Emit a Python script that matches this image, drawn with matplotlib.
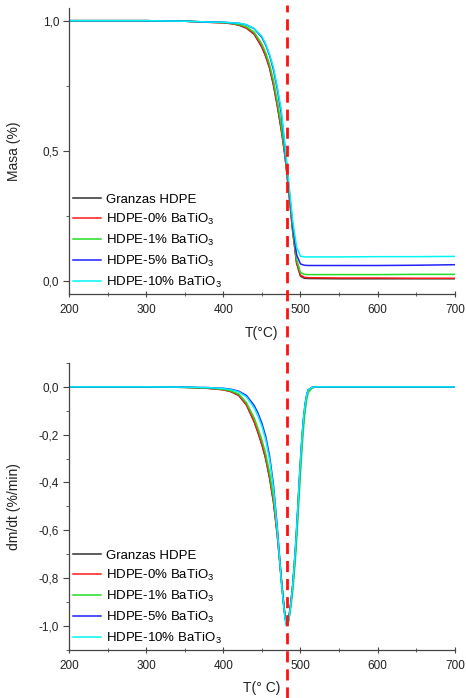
import matplotlib
matplotlib.use('Agg')
import matplotlib.pyplot as plt
from matplotlib.lines import Line2D
from matplotlib.ticker import MultipleLocator, FuncFormatter

plt.rcParams['font.family'] = ['Liberation Sans', 'DejaVu Sans']
plt.rcParams['mathtext.default'] = 'regular'

labels = ['Granzas HDPE', 'HDPE-0% BaTiO$_3$', 'HDPE-1% BaTiO$_3$',
          'HDPE-5% BaTiO$_3$', 'HDPE-10% BaTiO$_3$']
colors = ['#303030', '#ff1a1a', '#22dd22', '#2222ff', '#00f5f5']

t_peak = 482  # temperature of max degradation rate (C)

# TGA: mass fraction vs temperature
T_mass = [200, 300, 350, 380, 400, 410, 420, 430, 440, 450, 455, 460, 465,
          470, 475, 480, 485, 490, 495, 500, 505, 510, 550, 600, 650, 700]
mass_granzas = [1.0, 1.0, 0.998, 0.994, 0.992, 0.989, 0.983, 0.971, 0.948, 0.898,
                0.862, 0.817, 0.752, 0.672, 0.582, 0.478, 0.338, 0.188, 0.068,
                0.018, 0.010, 0.009, 0.008, 0.008, 0.008, 0.008]
mass_0 = [1.0, 1.0, 0.998, 0.994, 0.992, 0.989, 0.984, 0.972, 0.950, 0.900,
          0.865, 0.820, 0.755, 0.675, 0.585, 0.480, 0.340, 0.190, 0.070,
          0.022, 0.014, 0.012, 0.011, 0.011, 0.010, 0.010]
mass_1 = [1.0, 1.0, 0.998, 0.995, 0.993, 0.990, 0.986, 0.976, 0.956, 0.910,
          0.876, 0.831, 0.770, 0.690, 0.600, 0.490, 0.350, 0.200, 0.082,
          0.032, 0.025, 0.024, 0.024, 0.024, 0.025, 0.025]
mass_5 = [1.0, 1.0, 0.998, 0.995, 0.994, 0.992, 0.990, 0.984, 0.969, 0.936,
          0.906, 0.866, 0.811, 0.736, 0.646, 0.510, 0.360, 0.212, 0.100,
          0.065, 0.060, 0.059, 0.059, 0.059, 0.060, 0.062]
mass_10 = [1.0, 1.0, 0.998, 0.995, 0.994, 0.992, 0.990, 0.985, 0.970, 0.940,
           0.910, 0.870, 0.820, 0.745, 0.660, 0.520, 0.370, 0.230, 0.130,
           0.095, 0.092, 0.092, 0.092, 0.093, 0.093, 0.094]

# DTG: derivative vs temperature
T_dtg = [200, 300, 350, 380, 400, 410, 420, 430, 440, 445, 450, 455, 460, 465,
         470, 475, 478, 480, 482, 484, 486, 488, 490, 492, 494, 496, 498, 500,
         502, 504, 506, 508, 510, 515, 520, 600, 700]
dtg_granzas = [0, 0, -0.002, -0.006, -0.012, -0.020, -0.036, -0.076, -0.146, -0.192,
               -0.242, -0.302, -0.382, -0.482, -0.622, -0.802, -0.902, -0.962,
               -0.992, -0.982, -0.942, -0.892, -0.832, -0.752, -0.662, -0.552,
               -0.432, -0.322, -0.222, -0.142, -0.082, -0.042, -0.016, -0.003,
               0, 0, 0]
dtg_0 = [0, 0, -0.002, -0.006, -0.012, -0.020, -0.035, -0.075, -0.145, -0.190,
         -0.240, -0.300, -0.380, -0.480, -0.620, -0.800, -0.900, -0.960,
         -0.990, -0.980, -0.940, -0.890, -0.830, -0.750, -0.660, -0.550,
         -0.430, -0.320, -0.220, -0.140, -0.080, -0.040, -0.015, -0.003,
         0, 0, 0]
dtg_1 = [0, 0, -0.002, -0.005, -0.010, -0.017, -0.030, -0.066, -0.130, -0.174,
         -0.222, -0.282, -0.360, -0.462, -0.605, -0.790, -0.895, -0.958,
         -0.992, -0.988, -0.955, -0.910, -0.855, -0.780, -0.695, -0.590,
         -0.475, -0.362, -0.258, -0.170, -0.102, -0.055, -0.024, -0.005,
         0, 0, 0]
dtg_5 = [0, 0, -0.001, -0.003, -0.006, -0.010, -0.018, -0.036, -0.078, -0.110,
         -0.152, -0.208, -0.290, -0.410, -0.590, -0.800, -0.905, -0.965,
         -0.998, -0.985, -0.945, -0.890, -0.825, -0.740, -0.645, -0.535,
         -0.415, -0.305, -0.205, -0.128, -0.070, -0.034, -0.012, -0.002,
         0, 0, 0]
dtg_10 = [0, 0, -0.001, -0.003, -0.007, -0.012, -0.021, -0.042, -0.088, -0.122,
          -0.165, -0.222, -0.305, -0.425, -0.600, -0.805, -0.908, -0.968,
          -1.000, -0.988, -0.948, -0.893, -0.828, -0.743, -0.648, -0.538,
          -0.418, -0.308, -0.208, -0.130, -0.072, -0.035, -0.013, -0.002,
          0, 0, 0]

masses = [mass_granzas, mass_0, mass_1, mass_5, mass_10]
dtgs = [dtg_granzas, dtg_0, dtg_1, dtg_5, dtg_10]

fig = plt.figure(figsize=(4.66, 6.98), dpi=100)
ax1 = fig.add_axes([0.148, 0.579, 0.828, 0.410])
ax2 = fig.add_axes([0.148, 0.069, 0.828, 0.411])

comma = FuncFormatter(lambda v, p: ('%.1f' % v).replace('.', ','))

for ax in (ax1, ax2):
    ax.spines['top'].set_visible(False)
    ax.spines['right'].set_visible(False)
    for s in ('left', 'bottom'):
        ax.spines[s].set_color('#444444')
        ax.spines[s].set_linewidth(0.9)
    ax.set_xlim(200, 700)
    ax.xaxis.set_major_locator(MultipleLocator(100))
    ax.xaxis.set_minor_locator(MultipleLocator(50))
    ax.yaxis.set_major_formatter(comma)
    ax.tick_params(axis='x', which='major', direction='inout', length=5,
                   color='#444444', labelsize=8.5, labelcolor='#222222', pad=5)
    ax.tick_params(axis='x', which='minor', direction='inout', length=3,
                   color='#444444')
    ax.tick_params(axis='y', which='major', direction='out', length=4,
                   color='#444444', labelsize=8.5, labelcolor='#222222', pad=3)
    ax.tick_params(axis='y', which='minor', direction='out', length=2.5,
                   color='#444444')

for m, c, lab in zip(masses, colors, labels):
    ax1.plot(T_mass, m, color=c, lw=1.1, label=lab)
ax1.set_ylim(-0.05, 1.05)
ax1.yaxis.set_major_locator(MultipleLocator(0.5))
ax1.yaxis.set_minor_locator(MultipleLocator(0.25))
ax1.set_ylabel('Masa (%)', fontsize=10, color='#222222', labelpad=16)
ax1.set_xlabel('T(°C)', fontsize=10, color='#222222', labelpad=7)

for d, c, lab in zip(dtgs, colors, labels):
    ax2.plot(T_dtg, d, color=c, lw=1.1, label=lab)
ax2.set_ylim(-1.1, 0.1)
ax2.yaxis.set_major_locator(MultipleLocator(0.2))
ax2.yaxis.set_minor_locator(MultipleLocator(0.1))
ax2.set_ylabel('dm/dt (%/min)', fontsize=10, color='#222222', labelpad=13)
ax2.set_xlabel('T(° C)', fontsize=10, color='#222222', labelpad=6)

for ax in (ax1, ax2):
    ax.legend(loc='lower left', bbox_to_anchor=(0.0, 0.0), frameon=False,
              fontsize=9.5, handlelength=2.1, handletextpad=0.4,
              labelspacing=0.45, borderaxespad=0.2, borderpad=0.1)

# dashed vertical line through both panels at the DTG peak temperature
xd = ax1.transData.transform((t_peak, 0))[0]
xf = fig.transFigure.inverted().transform((xd, 0))[0]
fig.add_artist(Line2D([xf, xf], [0.0, 0.993], transform=fig.transFigure,
                      color='#ff1111', lw=2.0, linestyle=(0, (4, 2.5))))

fig.savefig('out.png', dpi=100)
